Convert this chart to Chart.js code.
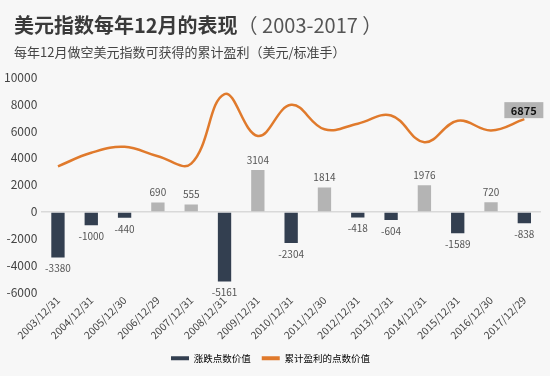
<!DOCTYPE html>
<html>
<head>
<meta charset="utf-8">
<script src="https://cdn.jsdelivr.net/npm/chart.js@4"></script>
<style>
  html, body { margin: 0; padding: 0; background: #f7f7f7; }
  #wrap { position: relative; width: 550px; height: 376px; font-family: "Noto Sans CJK SC", sans-serif; }
  #title { position: absolute; left: 14px; top: 10px; font-size: 20px; color: #3a3a3a; white-space: nowrap; }
  #title b { font-weight: bold; }
  #title span { color: #555; }
  #sub { position: absolute; left: 14px; top: 42px; font-size: 13px; color: #444; white-space: nowrap; }
  canvas { position: absolute; left: 0; top: 0; }
</style>
</head>
<body>
<div id="wrap">
  <canvas id="chart" width="550" height="376"></canvas>
  <div id="title"><b>美元指数每年12月的表现</b><span>（ 2003-2017 ）</span></div>
  <div id="sub">每年12月做空美元指数可获得的累计盈利（美元/标准手）</div>
</div>
<script>
labels = ["2003/12/31", "2004/12/31", "2005/12/30", "2006/12/29", "2007/12/31",
  "2008/12/31", "2009/12/31", "2010/12/31", "2011/12/30", "2012/12/31",
  "2013/12/31", "2014/12/31", "2015/12/31", "2016/12/30", "2017/12/29"];
changes = [-3380, -1000, -440, 690, 555, -5161, 3104, -2304, 1814, -418, -604, 1976, -1589, 720, -838];
cumulative = [3380, 4380, 4820, 4130, 3575, 8736, 5632, 7936, 6122, 6540, 7144, 5168, 6757, 6037, 6875];
yTicks = [-6000, -4000, -2000, 0, 2000, 4000, 6000, 8000, 10000];

const FONT = '"Noto Sans CJK SC", sans-serif';

// value labels on the bars, and the boxed label on the last point
const labelPlugin = {
  id: "valueLabels",
  afterDatasetsDraw(chart) {
    const ctx = chart.ctx;
    ctx.save();
    ctx.font = "10px " + FONT;
    ctx.fillStyle = "#555";
    ctx.textAlign = "center";
    chart.getDatasetMeta(0).data.forEach((bar, i) => {
      const v = changes[i];
      if (v >= 0) {
        ctx.textBaseline = "bottom";
        ctx.fillText(v, bar.x, bar.y - 5);
      } else {
        ctx.textBaseline = "top";
        ctx.fillText(v, bar.x, bar.y + 6);
      }
    });
    const pts = chart.getDatasetMeta(1).data;
    const last = pts[pts.length - 1];
    const bx = last.x - 20, by = last.y - 17;
    ctx.fillStyle = "#b3b3b3";
    ctx.fillRect(bx, by, 39, 16);
    ctx.fillStyle = "#111";
    ctx.font = "bold 11px " + FONT;
    ctx.textBaseline = "middle";
    ctx.fillText(cumulative[cumulative.length - 1], bx + 19.5, by + 8.5);
    ctx.restore();
  }
};

new Chart(document.getElementById("chart"), {
  type: "bar",
  data: {
    labels: labels,
    datasets: [
      {
        label: "涨跌点数价值",
        data: changes,
        backgroundColor: changes.map(v => v < 0 ? "#333f50" : "#b4b4b4"),
        categoryPercentage: 1,
        barPercentage: 0.4,
        order: 2
      },
      {
        type: "line",
        label: "累计盈利的点数价值",
        data: cumulative,
        borderColor: "#e07a2c",
        backgroundColor: "#e07a2c",
        borderWidth: 2.5,
        pointRadius: 0,
        tension: 0.4,
        order: 1
      }
    ]
  },
  options: {
    responsive: false,
    animation: false,
    layout: { padding: { top: 77, right: 9, left: 0, bottom: 3 } },
    plugins: {
      legend: {
        position: "bottom",
        labels: {
          boxWidth: 18,
          boxHeight: 4,
          color: "#444",
          font: { size: 9.5, family: FONT },
          padding: 11,
          generateLabels: chart => chart.data.datasets.map((d, i) => ({
            text: d.label,
            fillStyle: i == 0 ? "#333f50" : "#e07a2c",
            strokeStyle: "transparent",
            lineWidth: 0,
            datasetIndex: i
          }))
        }
      },
      tooltip: { enabled: false }
    },
    scales: {
      x: {
        grid: { display: false, drawTicks: false },
        border: { display: false },
        ticks: {
          color: "#444",
          font: { size: 10.5, family: FONT },
          maxRotation: 45,
          minRotation: 45,
          padding: 1
        }
      },
      y: {
        min: -6000,
        max: 10000,
        afterBuildTicks: axis => { axis.ticks = yTicks.map(v => ({ value: v })); },
        grid: {
          drawTicks: false,
          color: c => c.tick && c.tick.value === 0 ? "#d9d9d9" : "transparent",
          lineWidth: 1.5
        },
        border: { display: false },
        ticks: {
          autoSkip: false,
          color: "#444",
          font: { size: 12, family: FONT },
          padding: 4,
          callback: v => String(v)
        }
      }
    }
  },
  plugins: [labelPlugin]
});
</script>
</body>
</html>
